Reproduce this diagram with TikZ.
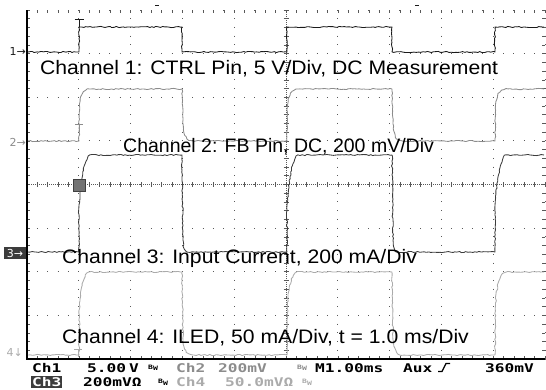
\documentclass[tikz,border=0pt]{standalone}
\usepackage{fontspec}
\setmainfont{Liberation Sans}
\newfontfamily\widesans[FakeStretch=1.085]{Liberation Sans}
\newfontfamily\scopemono[FakeStretch=1.35]{DejaVu Sans Mono}
\newfontfamily\markfont{DejaVu Sans}
\usetikzlibrary{decorations.pathmorphing}
\definecolor{chone}{HTML}{1A1A1A}
\definecolor{chtwo}{HTML}{8C8C8C}
\definecolor{chthree}{HTML}{3C3C3C}
\definecolor{chfour}{HTML}{ABABAB}
\tikzstyle{trace} = [line width=0.85pt, line join=round,
    decorate, decoration={random steps, segment length=2.2pt, amplitude=0.6pt}]
\tikzstyle{griddot} = [line width=1pt, black!65]
\tikzstyle{tick} = [line width=0.6pt, black!65]
\tikzstyle{label} = [anchor=base west, inner sep=0pt, font=\widesans\fontsize{19.5}{22}\selectfont]
\tikzstyle{readout} = [anchor=base west, inner sep=0pt, font=\scopemono\bfseries\fontsize{12}{12}\selectfont]
\tikzstyle{marker} = [inner sep=0pt, font=\markfont\fontsize{11}{11}\selectfont]
\newcommand{\bwsym}{{\fontsize{6}{6}\selectfont B\raisebox{-1.5pt}{W}}}
\def\divx{51.8}
\def\divy{43.625}

\begin{document}
\begin{tikzpicture}[x=1pt, y=-1pt]
	\useasboundingbox (0,0) rectangle (546,389);
	\pgfmathsetseed{7}

	% graticule
	\foreach \i in {1,...,10}
		\draw[griddot, dash pattern=on 1pt off 7.725pt, dash phase=0.5pt] ({27+\divx*\i},10) -- ({27+\divx*\i},359);
	\foreach \j in {0,...,7}
		\draw[griddot, dash pattern=on 1pt off 9.36pt, dash phase=0.5pt] (27,{10+\divy*\j}) -- (545,{10+\divy*\j});
	\draw[tick, dash pattern=on 0.7pt off 1.3pt] (27,184.5) -- (545,184.5);
	\draw[tick, dash pattern=on 0.7pt off 1.3pt] (286,10) -- (286,359);
	\foreach \k in {0,...,50} {
		\draw[tick] ({27+10.36*\k},182) -- ++(0,5);
		\draw[tick] ({27+10.36*\k},10) -- ++(0,3);
		\draw[tick] ({27+10.36*\k},359) -- ++(0,-3);
	}
	\foreach \k in {0,...,40} {
		\draw[tick] (283.5,{10+8.725*\k}) -- ++(5,0);
		\draw[tick] (27,{10+8.725*\k}) -- ++(3,0);
		\draw[tick] (545,{10+8.725*\k}) -- ++(-3,0);
	}
	\draw[line width=1.3pt] (27,10) -- (27,359) -- (545,359);

	% channel 4
	\draw[trace, chfour] (28,355)
		\foreach \r/\f in {79/182, 287/392} {
			-- (\r,355) -- ({\r+0.5},305) .. controls ({\r+2},282) and ({\r+5},272) .. ({\r+13},272)
			-- (\f,272) -- ({\f+1},340) .. controls ({\f+2},351) and ({\f+5},355) .. ({\f+12},355) }
		-- (495,355) -- (495.5,305) .. controls (497,282) and (500,272) .. (508,272) -- (544,272);

	% channel 2
	\draw[trace, chtwo] (28,141)
		\foreach \r/\f in {79/182, 287/392} {
			-- (\r,141) -- ({\r+0.5},106) .. controls ({\r+2},92) and ({\r+5},89) .. ({\r+13},89)
			-- (\f,89) -- ({\f+1},124) .. controls ({\f+2},137) and ({\f+5},141) .. ({\f+12},141) }
		-- (495,141) -- (495.5,106) .. controls (497,92) and (500,89) .. (508,89) -- (544,89);

	% channel 3
	\draw[trace, chthree] (28,252)
		\foreach \r/\f in {79/182, 287/392} {
			-- (\r,252) -- (\r,205) .. controls ({\r+2},182) and ({\r+5},158) .. ({\r+11},155)
			-- (\f,155) -- ({\f+1},240) .. controls ({\f+1.5},250) and ({\f+3},252) .. ({\f+8},252) }
		-- (495,252) -- (495,205) .. controls (497,182) and (500,158) .. (506,155) -- (544,155);

	% channel 1
	\draw[trace, chone] (28,52) -- (79,52) -- (79,27) -- (182,27) -- (182,52) -- (287,52) -- (287,27)
		-- (392,27) -- (392,52) -- (495,52) -- (495,27) -- (544,27);

	% trigger marks
	\draw[chone, line width=1pt] (74.5,19) -- (83.5,19) (79,19) -- (79,27);
	\draw[chtwo, line width=1pt] (75,124) -- (83,124) (79,124) -- (79,132);
	\draw[chfour, line width=1pt] (74,349) -- (82,349) (78,349) -- (78,357);
	\draw[fill=black!55, draw=black!75, line width=1pt] (73,179) rectangle (85,191);
	\draw[chone, line width=1pt] (155,5) -- (159,5);
	\draw[chone, line width=1pt] (415,5) -- (419,5);

	% channel markers
	\node[marker, chone, anchor=east] (mkone) at (26,51) {1→};
	\node[marker, chtwo, anchor=east] (mktwo) at (26,142) {2→};
	\node[marker, fill=chthree, text=white, minimum width=22pt, minimum height=12pt] (mkthree) at (15,253) {3→};
	\node[marker, chfour, anchor=east] (mkfour) at (23,353) {4↓};

	% channel labels
	\node[label] (lblone) at (40,74) {Channel 1: CTRL Pin, 5 V/Div, DC Measurement};
	\node[label, font=\fontsize{19.5}{22}\selectfont] (lbltwo) at (123,152) {Channel 2: FB Pin, DC, 200 mV/Div};
	\node[label] (lblthree) at (62,263) {Channel 3: Input Current, 200 mA/Div};
	\node[label] (lblfour) at (62,343) {Channel 4: ILED, 50 mA/Div, t = 1.0 ms/Div};

	% readout
	\node[readout] (rchone) at (32,372) {Ch1};
	\node[readout] (rvone) at (87,372) {5.00};
	\node[readout] (rvoneunit) at (129,372) {V};
	\node[readout, font=\scopemono\bfseries] (rbwone) at (148,369) {\bwsym};
	\node[readout, chtwo] (rchtwo) at (176,372) {Ch2};
	\node[readout, chtwo] (rvtwo) at (218,372) {200mV};
	\node[readout, chtwo, font=\scopemono\bfseries] (rbwtwo) at (297,369) {\bwsym};
	\node[readout] (rtime) at (315,372) {M1.00ms};
	\node[readout] (raux) at (403,372) {Aux};
	\draw[line width=1.3pt] (438,371.5) -- (442,371.5) -- (446,363.5) -- (450,363.5);
	\node[readout] (rlevel) at (485,372) {360mV};
	\node[readout, fill=chthree, text=white, inner sep=1pt] (rchthree) at (31,386.5) {Ch3};
	\node[readout] (rvthree) at (83,386.5) {200mVΩ};
	\node[readout, font=\scopemono\bfseries] (rbwthree) at (158,383.5) {\bwsym};
	\node[readout, chfour] (rchfour) at (176,386.5) {Ch4};
	\node[readout, chfour] (rvfour) at (225,386.5) {50.0mVΩ};
	\node[readout, chfour, font=\scopemono\bfseries] (rbwfour) at (302,383.5) {\bwsym};
\end{tikzpicture}
\end{document}
